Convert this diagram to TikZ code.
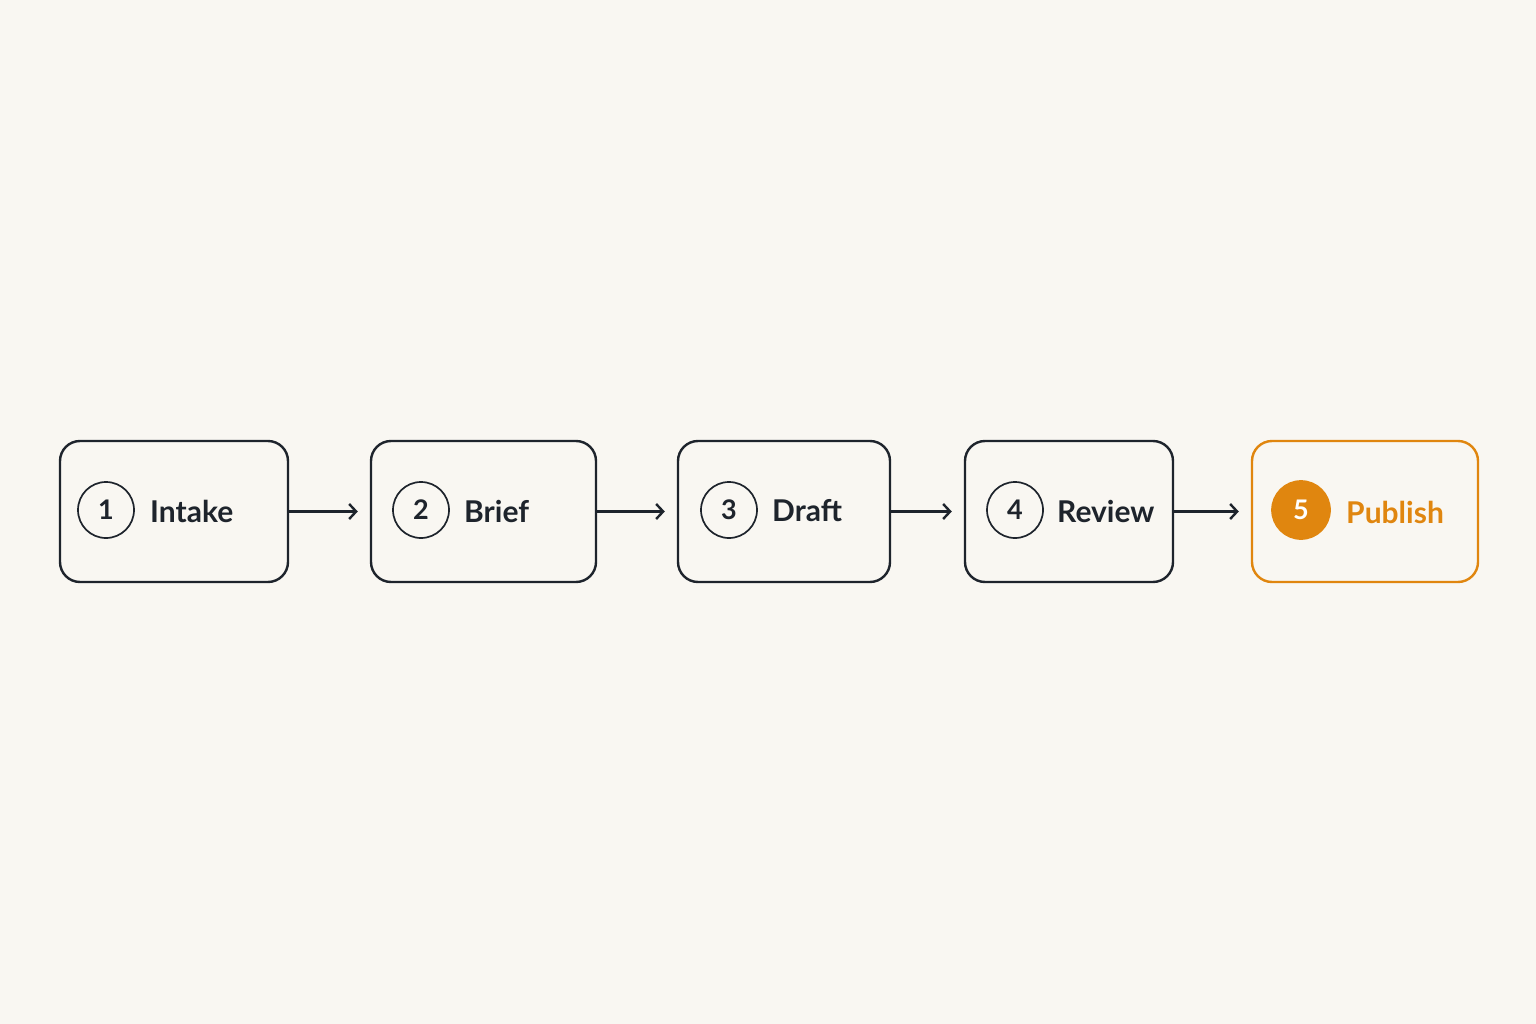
\documentclass[tikz,border=0pt]{standalone}
\usepackage{fontspec}
\setmainfont{Lato}
\usetikzlibrary{arrows.meta}
\definecolor{bg}{HTML}{F9F7F2}
\definecolor{ink}{HTML}{1E242C}
\definecolor{accent}{HTML}{E0860F}
\begin{document}
\begin{tikzpicture}[x=1pt,y=-1pt,
  stepbox/.style={draw=ink,line width=2.4pt,rounded corners=20pt,inner sep=0pt,fill=bg},
  numcirc/.style={circle,draw=ink,line width=1.7pt,minimum size=56pt,inner sep=0pt,font=\fontsize{27}{27}\selectfont\bfseries,text=ink},
  steplabel/.style={anchor=west,inner sep=0pt,font=\fontsize{30}{30}\selectfont\bfseries,text=ink},
  flow/.style={draw=ink,line width=2.4pt,-{Straight Barb[length=7pt,width=15pt,line width=2.4pt]},shorten >=12pt}]
\fill[bg] (0,0) rectangle (1536,1024);
\useasboundingbox (0,0) rectangle (1536,1024);
% boxes
\node[stepbox,minimum width=228pt,minimum height=141pt] (b1) at (174,511.5) {};
\node[stepbox,minimum width=225pt,minimum height=141pt] (b2) at (483.5,511.5) {};
\node[stepbox,minimum width=212pt,minimum height=141pt] (b3) at (784,511.5) {};
\node[stepbox,minimum width=208pt,minimum height=141pt] (b4) at (1069,511.5) {};
\node[stepbox,draw=accent,minimum width=226pt,minimum height=141pt] (b5) at (1365,511.5) {};
% circles
\node[numcirc] (c1) at (106,510) {1};
\node[numcirc] (c2) at (421,510) {2};
\node[numcirc] (c3) at (729,510) {3};
\node[numcirc] (c4) at (1015,510) {4};
\node[numcirc,draw=accent,fill=accent,text=white,minimum size=58pt] (c5) at (1301,510) {5};
% labels
\node[steplabel] (l1) at (150,511) {Intake};
\node[steplabel] (l2) at (464,511) {Brief};
\node[steplabel] (l3) at (772,511) {Draft};
\node[steplabel] (l4) at (1057,511) {Review};
\node[steplabel,text=accent] (l5) at (1346,512) {Publish};
% arrows
\draw[flow] (b1.east) -- (b2.west);
\draw[flow] (b2.east) -- (b3.west);
\draw[flow] (b3.east) -- (b4.west);
\draw[flow] (b4.east) -- (b5.west);
\end{tikzpicture}
\end{document}
